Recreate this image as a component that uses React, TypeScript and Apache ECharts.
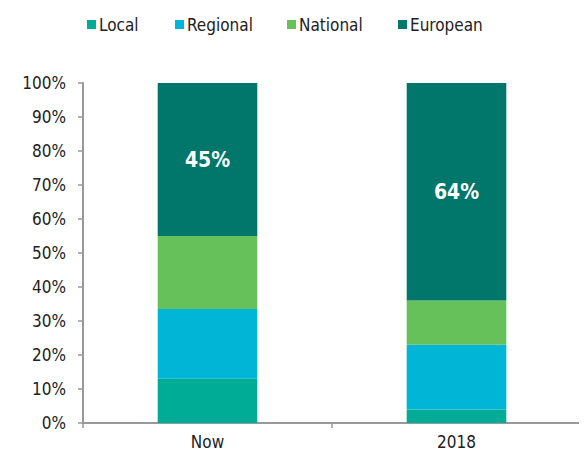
import React, { useEffect, useRef } from "react";
import * as echarts from "echarts";

const categories = ["Now", "2018"];
const seriesNames = ["Local", "Regional", "National", "European"];
const local = [13, 4];
const regional = [20.5, 19];
const national = [21.5, 13];
const european = [45, 64];
const yTicks = [0, 10, 20, 30, 40, 50, 60, 70, 80, 90, 100];

const colors = ["#00AC95", "#00B5D6", "#66C15B", "#00776A"];
const legendLefts = [87, 175, 287, 398];
const FONT = "'Liberation Sans Narrow', 'DejaVu Sans Condensed', 'Roboto', sans-serif";

export default function App() {
  const ref = useRef<HTMLDivElement>(null);
  useEffect(() => {
    const chart = echarts.init(ref.current!, null, { renderer: "svg" });
    const values = [local, regional, national, european];
    chart.setOption({
      animation: false,
      color: colors,
      textStyle: { fontFamily: FONT },
      legend: seriesNames.map((name, i) => ({
        data: [name],
        left: legendLefts[i],
        top: 16,
        padding: 0,
        icon: "rect",
        itemWidth: 9,
        itemHeight: 9,
        textStyle: { fontFamily: FONT, fontSize: 17, color: "#222", padding: [0, 0, 0, -2] },
      })),
      grid: { left: 83, right: 6, top: 83, bottom: 33, containLabel: false },
      xAxis: {
        type: "category",
        data: categories,
        axisLine: { lineStyle: { color: "#999", width: 2 } },
        axisTick: { show: true, length: 5, lineStyle: { color: "#999", width: 1.5 } },
        axisLabel: { fontFamily: FONT, fontSize: 17, color: "#222", margin: 10 },
      },
      yAxis: {
        type: "value",
        min: yTicks[0],
        max: yTicks[yTicks.length - 1],
        interval: 10,
        axisLine: { show: true, lineStyle: { color: "#999", width: 2 } },
        axisTick: { show: true, length: 5, lineStyle: { color: "#999", width: 1.5 } },
        splitLine: { show: false },
        axisLabel: {
          fontFamily: FONT,
          fontSize: 17,
          color: "#222",
          margin: 17,
          formatter: (v: number) => `${v}%`,
        },
      },
      series: seriesNames.map((name, i) => ({
        name,
        type: "bar",
        stack: "total",
        barWidth: "40%",
        data: values[i],
        itemStyle: { color: colors[i] },
        label:
          i === 3
            ? {
                show: true,
                position: "inside",
                formatter: (p: any) => `${Math.round(p.value)}%`,
                color: "#fff",
                fontWeight: "bold",
                fontSize: 21,
                fontFamily: FONT,
              }
            : { show: false },
      })),
    });
    return () => chart.dispose();
  }, []);
  return <div ref={ref} style={{ width: 587, height: 456, margin: -8 }} />;
}
